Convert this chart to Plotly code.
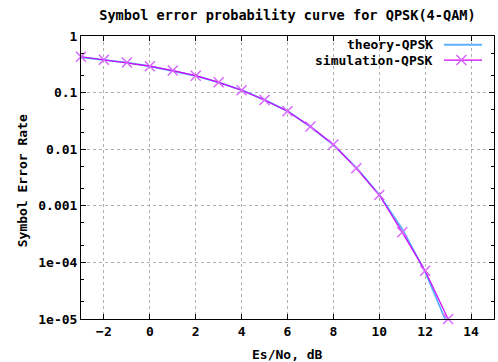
import plotly.graph_objects as go

# Data
esno_db = [-3, -2, -1, 0, 1, 2, 3, 4, 5, 6, 7, 8, 9, 10, 11, 12, 13]
ser_theory = [0.4217, 0.3816, 0.3382, 0.2921, 0.2438, 0.1980, 0.1515, 0.1106,
              0.0743, 0.0471, 0.0250, 0.01196, 0.00473, 0.001565, 0.000390,
              6.8e-5, 7.5e-6]
ser_sim = [0.43, 0.382, 0.340, 0.293, 0.245, 0.199, 0.152, 0.110,
           0.0740, 0.0468, 0.0252, 0.0121, 0.00460, 0.00155, 0.00034,
           7.1e-5, 1.0e-5]
x_ticks = [-2, 0, 2, 4, 6, 8, 10, 12, 14]
y_ticks = [1, 0.1, 0.01, 0.001, 1e-4, 1e-5]
y_ticktext = ["1", "0.1", "0.01", "0.001", "1e-04", "1e-05"]
names = ["theory-QPSK", "simulation-QPSK"]

BLUE = "#5cb0ff"
MAG = "#d000ff"
MAGM = "#d966ff"
FONT = dict(family="DejaVu Sans Mono", size=13, color="black", weight="bold")
TFONT = dict(family="DejaVu Sans Mono", size=13.6, color="black", weight="bold")

fig = go.Figure()
fig.add_trace(go.Scatter(x=esno_db, y=ser_theory, mode="lines",
                         line=dict(color=BLUE, width=1.8), showlegend=False))
fig.add_trace(go.Scatter(x=esno_db, y=ser_sim, mode="lines+markers",
                         line=dict(color=MAG, width=1.2),
                         marker=dict(symbol="x-thin", size=10,
                                     line=dict(color=MAGM, width=1.5)),
                         cliponaxis=False, showlegend=False))

# legend samples on a hidden overlay axis
fig.add_trace(go.Scatter(x=[0.879, 0.971], y=[0.969, 0.969], mode="lines",
                         line=dict(color=BLUE, width=2), xaxis="x2", yaxis="y2",
                         showlegend=False, hoverinfo="skip"))
fig.add_trace(go.Scatter(x=[0.879, 0.971], y=[0.915, 0.915], mode="lines",
                         line=dict(color=MAG, width=1.2), xaxis="x2", yaxis="y2",
                         showlegend=False, hoverinfo="skip"))
fig.add_trace(go.Scatter(x=[0.921], y=[0.915], mode="markers",
                         marker=dict(symbol="x-thin", size=10,
                                     line=dict(color=MAGM, width=1.5)),
                         xaxis="x2", yaxis="y2", showlegend=False,
                         hoverinfo="skip"))

annotations = [
    dict(text=names[0], x=0.857, y=0.969, xref="paper", yref="paper",
         xanchor="right", yanchor="middle", showarrow=False, font=FONT),
    dict(text=names[1], x=0.857, y=0.915, xref="paper", yref="paper",
         xanchor="right", yanchor="middle", showarrow=False, font=FONT),
    dict(text="Es/No, dB", x=0.5, y=-0.124, xref="paper", yref="paper",
         xanchor="center", yanchor="middle", showarrow=False, font=FONT),
    dict(text="Symbol Error Rate", x=-0.143, y=0.49, xref="paper", yref="paper",
         xanchor="center", yanchor="middle", textangle=-90, showarrow=False,
         font=FONT),
]

fig.update_layout(
    width=498, height=362,
    margin=dict(l=81, r=4, t=36, b=43),
    paper_bgcolor="white", plot_bgcolor="white",
    font=FONT,
    title=dict(text="Symbol error probability curve for QPSK(4-QAM)",
               x=0.5, xref="paper", xanchor="center",
               y=1 - 15 / 362, yanchor="middle", font=TFONT),
    xaxis=dict(range=[-3, 15], tickvals=x_ticks, showline=True,
               linecolor="black", linewidth=1, mirror="ticks",
               ticks="inside", ticklen=5, tickcolor="black",
               showgrid=True, gridcolor="#b0b0b0", griddash="dot",
               gridwidth=1, zeroline=False, tickfont=FONT),
    yaxis=dict(type="log", range=[-5, 0], tickvals=y_ticks,
               ticktext=y_ticktext, showline=True, linecolor="black",
               linewidth=1, mirror="ticks", ticks="inside", ticklen=5,
               tickcolor="black", showgrid=True, gridcolor="#b0b0b0",
               griddash="dot", gridwidth=1, zeroline=False, tickfont=FONT,
               minor=dict(ticks="inside", ticklen=3, tickcolor="black",
                          showgrid=False)),
    xaxis2=dict(range=[0, 1], overlaying="x", visible=False),
    yaxis2=dict(range=[0, 1], overlaying="y", visible=False),
    annotations=annotations,
)

fig.write_html("out.html")
